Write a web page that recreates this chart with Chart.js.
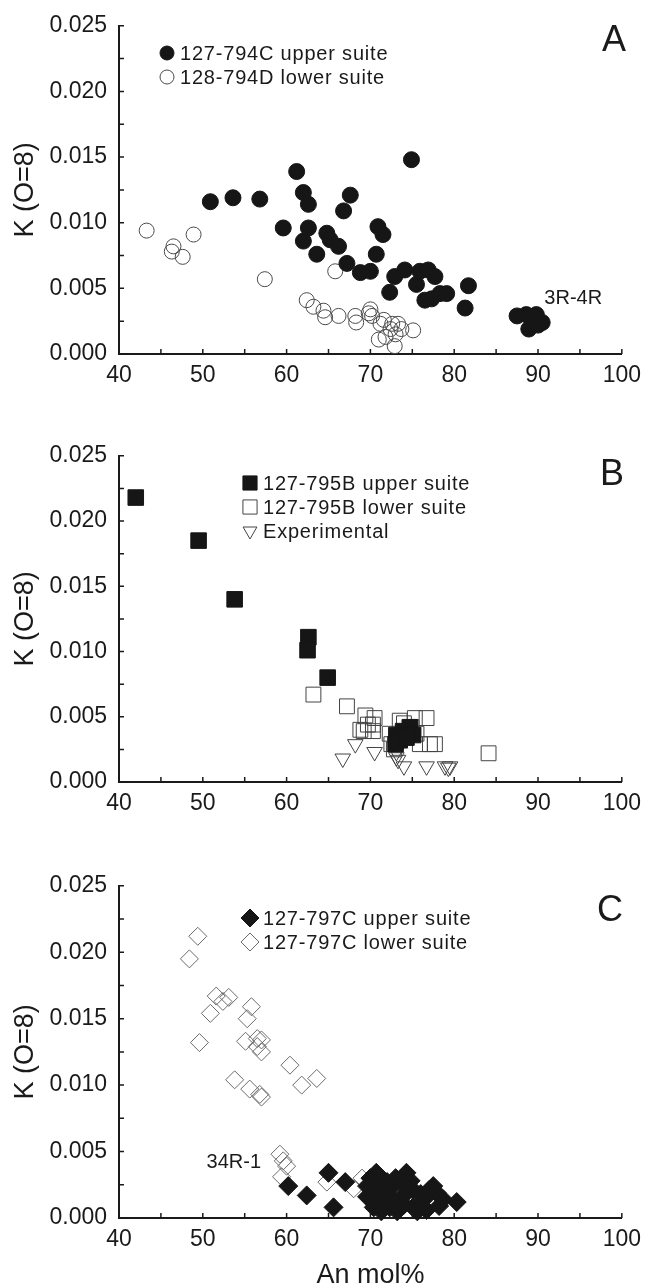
<!DOCTYPE html>
<html>
<head>
<meta charset="utf-8">
<script src="https://cdn.jsdelivr.net/npm/chart.js@4.4.0/dist/chart.umd.min.js"></script>
<style>
  html, body { margin: 0; padding: 0; background: #fff; overflow: hidden; }
  #wrap { position: relative; width: 649px; height: 1286px; }
  canvas { position: absolute; left: 0; }
</style>
</head>
<body>
<div id="wrap">
  <canvas id="chartA" width="649" height="430" style="top:0px"></canvas>
  <canvas id="chartB" width="649" height="430" style="top:430px"></canvas>
  <canvas id="chartC" width="649" height="440" style="top:860px"></canvas>
</div>
<script>
// Axis ranges and tick steps (same for all three panels)
const xRange = [40, 100];
const yRange = [0, 0.025];
const xStep = 10;
const yStep = 0.005;
const xTitle = 'An mol%';
const yTitle = 'K (O=8)';

// Panel A - 794C / 794D
const anUpper794C = [50.9, 53.6, 56.8, 61.2, 62.0, 62.6, 59.6, 62.6, 62.0, 63.6, 64.8, 65.2, 66.2, 66.8, 67.6, 67.2, 68.8, 70.0, 70.9, 71.5, 70.7, 74.9, 72.9, 74.1, 72.3, 75.5, 75.9, 76.9, 77.7, 76.5, 77.3, 78.3, 79.1, 81.7, 81.3, 87.5, 88.6, 89.8, 90.5, 88.9, 90.0];
const kUpper794C  = [0.0116, 0.0119, 0.0118, 0.0139, 0.0123, 0.0114, 0.0096, 0.0096, 0.0086, 0.0076, 0.0092, 0.0087, 0.0082, 0.0109, 0.0121, 0.0069, 0.0062, 0.0063, 0.0097, 0.0091, 0.0076, 0.0148, 0.0059, 0.0064, 0.0047, 0.0053, 0.0063, 0.0064, 0.0059, 0.0041, 0.0042, 0.0046, 0.0046, 0.0052, 0.0035, 0.0029, 0.0030, 0.0030, 0.0024, 0.0019, 0.0022];
const anLower794D = [43.3, 46.5, 46.3, 47.6, 48.9, 57.4, 65.8, 62.4, 63.2, 64.4, 64.6, 66.2, 68.2, 68.3, 70.0, 70.2, 69.8, 71.2, 71.6, 72.4, 72.6, 73.7, 73.3, 75.1, 71.0, 71.8, 72.9, 73.0];
const kLower794D  = [0.0094, 0.0082, 0.0078, 0.0074, 0.0091, 0.0057, 0.0063, 0.0041, 0.0036, 0.0033, 0.0028, 0.0029, 0.0029, 0.0024, 0.0034, 0.0029, 0.0031, 0.0023, 0.0026, 0.0019, 0.0023, 0.0019, 0.0023, 0.0018, 0.0011, 0.0013, 0.0006, 0.0015];

// Panel B - 795B and experimental
const anUpper795B = [42.0, 49.5, 53.8, 62.6, 62.5, 64.9, 73.1, 73.9, 74.7, 73.5, 75.1, 73.0, 74.3];
const kUpper795B  = [0.0218, 0.0185, 0.0140, 0.0111, 0.0101, 0.0080, 0.0036, 0.0039, 0.0042, 0.0032, 0.0036, 0.0029, 0.0034];
const anLower795B = [63.2, 67.2, 69.4, 70.5, 69.2, 70.3, 70.3, 69.7, 75.3, 76.7, 73.5, 74.9, 75.9, 77.1, 77.7, 84.1, 72.5, 72.3, 68.8, 74.3, 75.5, 72.8, 74.0];
const kLower795B  = [0.0067, 0.0058, 0.0051, 0.0049, 0.0039, 0.0039, 0.0044, 0.0044, 0.0049, 0.0049, 0.0047, 0.0042, 0.0029, 0.0029, 0.0029, 0.0022, 0.0029, 0.0037, 0.0040, 0.0036, 0.0037, 0.0025, 0.0045];
const anExperimental = [68.2, 66.7, 70.5, 73.1, 73.3, 74.0, 76.7, 78.9, 79.5, 79.3, 73.1];
const kExperimental  = [0.0029, 0.0018, 0.0023, 0.0019, 0.0017, 0.0012, 0.0012, 0.0012, 0.0012, 0.0011, 0.0023];

// Panel C - 797C
const anUpper797C = [60.2, 62.4, 65.6, 65.0, 67.0, 70.7, 69.6, 71.5, 71.1, 72.7, 74.3, 75.1, 73.5, 75.9, 77.5, 78.7, 80.3, 70.4, 76.7, 71.9, 74.3, 76.7, 69.6, 72.3, 75.1, 77.9, 73.0, 72.0, 70.0, 71.0, 72.5, 73.8, 74.8, 76.0, 77.0, 71.3, 73.2, 75.6, 78.2, 70.2, 72.0, 74.0, 76.2];
const kUpper797C  = [0.0024, 0.0017, 0.0008, 0.0034, 0.0027, 0.0034, 0.0024, 0.0029, 0.0014, 0.0024, 0.0034, 0.0021, 0.0014, 0.0011, 0.0024, 0.0014, 0.0012, 0.0008, 0.0006, 0.0019, 0.0019, 0.0016, 0.0016, 0.0008, 0.0008, 0.0019, 0.0030, 0.0011, 0.0030, 0.0025, 0.0015, 0.0026, 0.0028, 0.0018, 0.0021, 0.0005, 0.0005, 0.0005, 0.0009, 0.0020, 0.0027, 0.0010, 0.0009];
const anLower797C = [49.4, 48.4, 51.6, 52.4, 53.1, 50.9, 55.8, 55.3, 49.6, 55.1, 56.5, 57.0, 56.5, 57.0, 60.4, 63.6, 61.8, 53.8, 55.6, 57.0, 56.8, 59.2, 59.6, 60.0, 59.4, 64.8, 68.0, 69.0];
const kLower797C  = [0.0212, 0.0195, 0.0167, 0.0163, 0.0166, 0.0154, 0.0159, 0.0150, 0.0132, 0.0133, 0.0135, 0.0134, 0.0129, 0.0125, 0.0115, 0.0105, 0.0100, 0.0104, 0.0097, 0.0091, 0.0093, 0.0048, 0.0043, 0.0039, 0.0031, 0.0027, 0.0022, 0.0030];

// Legend texts and notes
const legendA = ['127-794C upper suite', '128-794D lower suite'];
const legendB = ['127-795B upper suite', '127-795B lower suite', 'Experimental'];
const legendC = ['127-797C upper suite', '127-797C lower suite'];

const FONT = '"Liberation Sans", Arial, Helvetica, sans-serif';
const INK = '#1a1a1a';
Chart.defaults.font.family = FONT;
Chart.defaults.color = INK;

function toPoints(xs, ys) {
  return xs.map((x, i) => ({ x: x, y: ys[i] }));
}

// Marker styles
const filledCircle = { pointStyle: 'circle', pointRadius: 8, pointBackgroundColor: '#161616', pointBorderColor: '#161616', pointBorderWidth: 1 };
const openCircle   = { pointStyle: 'circle', pointRadius: 7.5, pointBackgroundColor: 'rgba(0,0,0,0)', pointBorderColor: '#4a4a4a', pointBorderWidth: 1 };
const filledSquare = { pointStyle: 'rect', pointRadius: 11, pointBackgroundColor: '#161616', pointBorderColor: '#161616', pointBorderWidth: 1 };
const openSquare   = { pointStyle: 'rect', pointRadius: 10.5, pointBackgroundColor: 'rgba(0,0,0,0)', pointBorderColor: '#444', pointBorderWidth: 1 };
const openTriangle = { pointStyle: 'triangle', pointRotation: 180, pointRadius: 9, pointBackgroundColor: 'rgba(0,0,0,0)', pointBorderColor: '#444', pointBorderWidth: 1 };
const filledDiamond = { pointStyle: 'rectRot', pointRadius: 9.5, pointBackgroundColor: '#161616', pointBorderColor: '#161616', pointBorderWidth: 1 };
const openDiamond   = { pointStyle: 'rectRot', pointRadius: 9, pointBackgroundColor: 'rgba(0,0,0,0)', pointBorderColor: '#6a6a6a', pointBorderWidth: 1 };

function dataset(label, xs, ys, style) {
  return Object.assign({ label: label, data: toPoints(xs, ys), showLine: false, clip: false }, style);
}

// Inward minor/major tick marks on both axes
const innerTicks = {
  id: 'innerTicks',
  afterDraw(chart) {
    const ctx = chart.ctx;
    const x = chart.scales.x;
    const y = chart.scales.y;
    ctx.save();
    ctx.strokeStyle = INK;
    ctx.lineWidth = 1.5;
    ctx.beginPath();
    const nx = Math.round((xRange[1] - xRange[0]) / (xStep / 2));
    for (let i = 0; i <= nx; i++) {
      const px = x.getPixelForValue(xRange[0] + i * xStep / 2);
      ctx.moveTo(px, y.bottom);
      ctx.lineTo(px, y.bottom - 5);
    }
    const ny = Math.round((yRange[1] - yRange[0]) / (yStep / 2));
    for (let i = 0; i <= ny; i++) {
      const py = y.getPixelForValue(yRange[0] + i * yStep / 2);
      ctx.moveTo(x.left, py);
      ctx.lineTo(x.left + 5, py);
    }
    ctx.stroke();
    ctx.restore();
  }
};

// Legend, panel letter and notes drawn inside the plot
const panelText = {
  id: 'panelText',
  afterDraw(chart, args, opts) {
    const ctx = chart.ctx;
    ctx.save();
    ctx.fillStyle = INK;
    ctx.textBaseline = 'middle';
    ctx.textAlign = 'left';
    ctx.font = '20px ' + FONT;
    if ('letterSpacing' in ctx) ctx.letterSpacing = '0.8px';
    opts.items.forEach((item, i) => {
      const ly = opts.legendY + i * opts.rowGap;
      const ds = chart.data.datasets[i];
      ctx.fillStyle = ds.pointBackgroundColor;
      ctx.strokeStyle = ds.pointBorderColor;
      ctx.lineWidth = 1;
      Chart.helpers.drawPoint(ctx, {
        pointStyle: ds.pointStyle,
        radius: item.radius,
        rotation: ds.pointRotation || 0,
        borderWidth: 1
      }, opts.markerX, ly);
      ctx.fillStyle = INK;
      ctx.fillText(item.text, opts.markerX + 13, ly + 1);
    });
    if ('letterSpacing' in ctx) ctx.letterSpacing = '0px';
    ctx.textAlign = 'center';
    ctx.font = '36px ' + FONT;
    ctx.fillText(opts.letter, opts.letterX, opts.letterY);
    ctx.font = '20px ' + FONT;
    (opts.notes || []).forEach(n => {
      ctx.fillText(n.text, chart.scales.x.getPixelForValue(n.x), chart.scales.y.getPixelForValue(n.y));
    });
    ctx.restore();
  }
};

function makeChart(id, datasets, cfg) {
  const tickFont = { size: 23, family: FONT };
  return new Chart(document.getElementById(id), {
    type: 'scatter',
    data: { datasets: datasets },
    options: {
      responsive: false,
      devicePixelRatio: 1,
      animation: false,
      layout: { padding: { top: cfg.top, right: 27, left: 0, bottom: 0 } },
      plugins: {
        legend: { display: false },
        tooltip: { enabled: false },
        panelText: cfg.text
      },
      scales: {
        x: {
          type: 'linear', min: xRange[0], max: xRange[1],
          ticks: { stepSize: xStep, font: tickFont, color: INK, padding: 8, maxRotation: 0 },
          grid: { display: false, drawTicks: false },
          border: { display: true, color: INK, width: 2 },
          title: { display: cfg.xTitle, text: xTitle, color: INK, font: { size: 27, family: FONT }, padding: { top: 0, bottom: 8 } },
          afterFit: s => { s.height = cfg.xHeight; }
        },
        y: {
          type: 'linear', min: yRange[0], max: yRange[1],
          ticks: { stepSize: yStep, font: tickFont, color: INK, padding: 12, callback: v => v.toFixed(3) },
          grid: { display: false, drawTicks: false },
          border: { display: true, color: INK, width: 2 },
          title: { display: true, text: yTitle, color: INK, font: { size: 27, family: FONT }, padding: { top: 9, bottom: 0 } },
          afterFit: s => { s.width = 119; }
        }
      }
    },
    plugins: [innerTicks, panelText]
  });
}

makeChart('chartA', [
  dataset(legendA[0], anUpper794C, kUpper794C, filledCircle),
  dataset(legendA[1], anLower794D, kLower794D, openCircle)
], {
  top: 21, xHeight: 76, xTitle: false,
  text: {
    markerX: 167, legendY: 53, rowGap: 24,
    items: [{ text: legendA[0], radius: 7 }, { text: legendA[1], radius: 7 }],
    letter: 'A', letterX: 614, letterY: 41,
    notes: [{ text: '3R-4R', x: 94.2, y: 0.0042 }]
  }
});

makeChart('chartB', [
  dataset(legendB[0], anUpper795B, kUpper795B, filledSquare),
  dataset(legendB[1], anLower795B, kLower795B, openSquare),
  dataset(legendB[2], anExperimental, kExperimental, openTriangle)
], {
  top: 21, xHeight: 78, xTitle: false,
  text: {
    markerX: 250, legendY: 53, rowGap: 24,
    items: [{ text: legendB[0], radius: 10 }, { text: legendB[1], radius: 10 }, { text: legendB[2], radius: 8 }],
    letter: 'B', letterX: 612, letterY: 45
  }
});

makeChart('chartC', [
  dataset(legendC[0], anUpper797C, kUpper797C, filledDiamond),
  dataset(legendC[1], anLower797C, kLower797C, openDiamond)
], {
  top: 25, xHeight: 82, xTitle: true,
  text: {
    markerX: 250, legendY: 58, rowGap: 24,
    items: [{ text: legendC[0], radius: 9 }, { text: legendC[1], radius: 9 }],
    letter: 'C', letterX: 610, letterY: 51,
    notes: [{ text: '34R-1', x: 53.7, y: 0.0042 }]
  }
});
</script>
</body>
</html>
